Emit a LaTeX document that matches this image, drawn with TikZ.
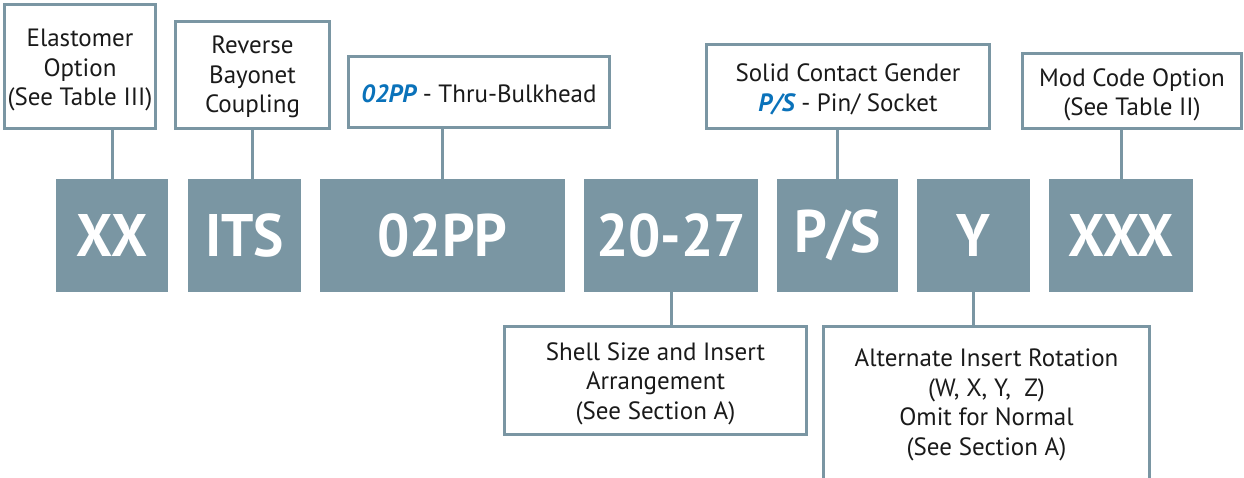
\documentclass[tikz,border=0pt]{standalone}
\usepackage{fontspec}
\setmainfont{PT Sans}
\newfontfamily\bigfont[FakeStretch=0.95]{PT Sans}
\definecolor{steel}{HTML}{7A96A3}
\definecolor{codeblue}{HTML}{0A72BA}
\definecolor{ink}{HTML}{1A1A1A}
\tikzset{
  obox/.style={draw=steel, line width=3pt, fill=white, inner sep=0pt},
  dbox/.style={fill=steel, inner sep=0pt, text=white, minimum height=113pt,
    font=\bigfont\fontsize{60}{60}\selectfont\bfseries},
  conn/.style={draw=steel, line width=3pt},
  btxt/.style={inner sep=0pt, align=center, text=ink, font=\fontsize{25}{29.5}\selectfont},
}
\newcommand{\hl}[1]{{\color{codeblue}\bfseries\itshape #1}}
\begin{document}
\begin{tikzpicture}[x=1pt,y=-1pt]
\useasboundingbox (0,0) rectangle (1244,478);
% top option boxes
\node[obox, minimum width=151pt, minimum height=124pt] (elast) at (80,66.5) {};
\node[btxt] (elastt) at ([yshift=-4pt]elast.center) {Elastomer\\Option\\(See Table III)};
\node[obox, minimum width=154pt, minimum height=107pt] (rev) at (252.5,75) {};
\node[btxt] (revt) at ([yshift=-2pt]rev.center) {Reverse\\Bayonet\\Coupling};
\node[obox, minimum width=261pt, minimum height=71pt] (thru) at (479,92) {};
\node[btxt] (thrut) at ([yshift=-2pt]thru.center) {\hl{02PP} - Thru-Bulkhead};
\node[obox, minimum width=283pt, minimum height=84pt] (solid) at (848,86.5) {};
\node[btxt] (solidt) at ([yshift=-3pt]solid.center) {Solid Contact Gender\\\hl{P/S} - Pin/ Socket};
\node[obox, minimum width=219pt, minimum height=75pt] (mod) at (1132,91) {};
\node[btxt] (modt) at ([yshift=-4pt]mod.center) {Mod Code Option\\(See Table II)};
% code boxes
\node[dbox, minimum width=112pt] (dxx) at (112,235.5) {XX};
\node[dbox, minimum width=113pt] (dits) at (244.5,235.5) {ITS};
\node[dbox, minimum width=245pt] (d02) at (442.5,235.5) {02PP};
\node[dbox, minimum width=174pt] (d2027) at (671,235.5) {20-27};
\node[dbox, minimum width=121pt] (dps) at (837.5,235.5) {P/S};
\node[dbox, minimum width=113pt] (dy) at (973.5,235.5) {Y};
\node[dbox, minimum width=144pt] (dxxx) at (1121,235.5) {XXX};
% bottom boxes
\node[obox, minimum width=302pt, minimum height=108pt] (shell) at (655.5,380.5) {};
\node[btxt] (shellt) at ([yshift=-3pt]shell.center) {Shell Size and Insert\\Arrangement\\(See Section A)};
\coordinate (altbl) at (823.5,480);
\coordinate (alttl) at (823.5,326.5);
\coordinate (alttr) at (1149.5,326.5);
\coordinate (altbr) at (1149.5,480);
\draw[conn] (altbl) -- (alttl) -- (alttr) -- (altbr);
\node[btxt] (alt) at (986.5,405) {Alternate Insert Rotation\\(W, X, Y,\ \ Z)\\Omit for Normal\\(See Section A)};
% connectors
\draw[conn] (elast.south -| dxx.north) -- (dxx.north);
\draw[conn] (rev.south) -- (rev.south |- dits.north);
\draw[conn] (thru.south -| d02.north) -- (d02.north);
\draw[conn] (solid.south -| dps.north) -- (dps.north);
\draw[conn] (mod.south -| dxxx.north) -- (dxxx.north);
\draw[conn] (d2027.south) -- (d2027.south |- shell.north);
\draw[conn] (dy.south) -- (dy.south |- alttl);
\end{tikzpicture}
\end{document}
